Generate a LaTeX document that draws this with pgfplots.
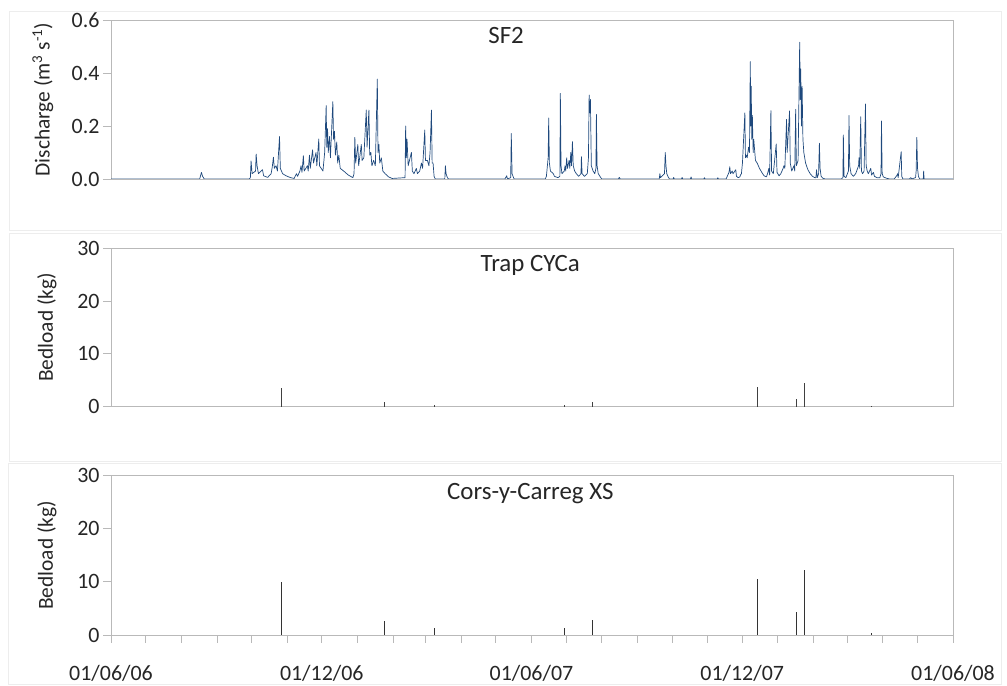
\documentclass[border=0pt]{standalone}
\usepackage{fontspec}
\setmainfont{Carlito}
\usepackage{pgfplots}
\pgfplotsset{compat=1.18}

\definecolor{qblue}{RGB}{31,73,125}
\definecolor{framegray}{RGB}{185,185,185}
\definecolor{txt}{RGB}{38,38,38}

\pgfplotsset{
  panel/.style={
    scale only axis,
    width=842bp,
    xmin=0, xmax=731,
    axis line style={framegray, line width=0.9bp},
    tick style={framegray, line width=0.9bp},
    major tick length=8bp,
    tick align=outside,
    ytick pos=left,
    xtick pos=bottom,
    /pgf/number format/assume math mode=true,
    ticklabel style={font=\fontsize{22}{25}\selectfont, text=txt},
    ylabel style={font=\fontsize{21.5}{25}\selectfont, text=txt, anchor=center, rotate=0},
    clip=true,
  },
}
\tikzset{title node/.style={font=\fontsize{25}{28}\selectfont, text=txt, anchor=center}}

\begin{document}
\begin{tikzpicture}[x=1bp,y=1bp]
\path (0,0) rectangle (1007,686);
% faint chart-area borders
\draw[black!7, line width=0.8bp] (9,456) rectangle (1001,675);
\draw[black!7, line width=0.8bp] (9,225) rectangle (1001,453);
\draw[black!7, line width=0.8bp] (8,2) rectangle (1001,223);

% ---------------- SF2 discharge
\begin{axis}[panel, at={(111bp,507bp)}, anchor=south west, height=159bp,
    ymin=0, ymax=0.6, ytick={0,0.2,0.4,0.6}, xtick=\empty,
    yticklabel style={/pgf/number format/.cd, fixed, fixed zerofill, precision=1},
    ylabel={Discharge (m\textsuperscript{3} s\textsuperscript{-1})},
    ylabel style={at={(axis description cs:-0.0808,0.5)}}]
\addplot[qblue, line width=0.7bp, line join=round] coordinates {
(0,0) (77,0) (78.5,0.025) (79.5,0.01) (81,0) (120,0)
(121,0.005) (121.6,0.068) (122.5,0.02) (125.5,0.03) (126,0.094) (126.8,0.05) (128,0.02)
(131.5,0.035) (132.5,0.012) (136,0.006) (139,0.02) (140,0.045) (141,0.082) (141.8,0.04)
(143.3,0.05) (144.5,0.03) (146.3,0.16) (147,0.04) (149,0.02) (152,0.012) (156,0.005) (159,0.002)
(161,0.02) (162,0.01) (164,0.03) (165,0.05) (165.8,0.025) (167,0.088) (167.7,0.03)
(170.5,0.05) (171.2,0.03) (172.3,0.09) (173,0.04) (175,0.11) (175.8,0.06) (178,0.1) (178.7,0.05)
(180.4,0.151) (181,0.05) (182.5,0.04) (184,0.03) (185.5,0.1) (186.8,0.277) (187.3,0.12)
(188,0.19) (188.6,0.1) (189.7,0.16) (190.5,0.08) (192.6,0.292) (193.2,0.15) (194,0.18) (194.8,0.09)
(196,0.14) (196.8,0.06) (197.8,0.09) (199,0.04) (202,0.03) (206,0.015) (210,0.005)
(211,0.02) (211.7,0.157) (212.4,0.06) (214.3,0.13) (215,0.05) (217.3,0.13) (218,0.07) (219.5,0.08)
(221.6,0.26) (222.3,0.12) (223.9,0.26) (224.6,0.09) (225.6,0.1) (226.5,0.05) (228,0.07) (229.5,0.05)
(231.2,0.377) (231.8,0.1) (232.6,0.13) (233.3,0.06) (234.7,0.08) (236,0.03) (238,0.02) (241,0.008) (244,0.002)
(255.3,0.005) (255.8,0.2) (256.4,0.08) (257,0.15) (258,0.05) (260.8,0.1) (261.6,0.03) (263,0.02)
(265.1,0.04) (266,0.02) (268,0.03) (269.5,0.06) (270.5,0.04) (272.4,0.185) (273,0.07)
(274.7,0.07) (276,0.05) (277,0.1) (278.2,0.26) (278.8,0.06) (279.6,0.06) (280.5,0.01) (281.5,0)
(289.8,0) (290.3,0.05) (290.9,0.02) (292,0.005) (293,0) (342,0)
(343.5,0.012) (344.2,0) (347,0.005) (347.5,0.172) (348.2,0.02) (349,0.01) (350,0) (377,0)
(378,0.01) (379.5,0.08) (380,0.23) (380.6,0.06) (381.5,0.03) (384,0.02) (385,0.01) (388,0.005)
(389.7,0.01) (390.1,0.323) (390.7,0.05) (391.5,0.02) (393.5,0.03) (394.2,0.05) (394.8,0.03)
(395.6,0.08) (396.3,0.04) (397.7,0.07) (398.3,0.04) (399.2,0.1) (399.8,0.05)
(400.6,0.141) (401.3,0.05) (402.5,0.03) (404,0.02) (406,0.01)
(408,0.02) (408.4,0.084) (409,0.02) (411,0.01) (413.5,0.02)
(414.5,0.08) (415.1,0.317) (415.7,0.25) (416.2,0.3) (417,0.05) (418.5,0.03) (420,0.02)
(421,0.04) (421.4,0.244) (422,0.05) (423,0.02) (424.5,0.01) (426,0)
(440.5,0) (441.3,0.006) (442,0) (476,0) (476.5,0.02) (477,0.005)
(480.5,0.02) (481.2,0.1) (481.8,0.05) (482.5,0.02) (484,0.005) (485,0)
(488,0) (488.5,0.006) (489,0) (495.3,0) (495.8,0.006) (496.3,0) (503,0) (503.6,0.008) (504.2,0)
(514.7,0) (515.2,0.005) (515.7,0) (526.3,0) (526.8,0.005) (527.3,0) (534,0)
(534.5,0.005) (536.5,0.025) (537.2,0.046) (537.8,0.02) (539.3,0.03) (540,0.02)
(542.4,0.035) (543,0.01) (544.5,0.005) (546,0.008) (546.5,0.015) (547.3,0.02) (548.2,0.06)
(550.3,0.25) (550.8,0.08) (551.5,0.09) (552.3,0.08) (553.5,0.12) (554.3,0.1)
(555,0.443) (555.4,0.2) (555.8,0.35) (556.3,0.15) (556.8,0.24) (557.5,0.1) (558,0.15)
(559.5,0.07) (561,0.06) (563,0.04) (565,0.025) (567,0.012) (569,0.008)
(570,0.02) (571.1,0.04) (571.8,0.015) (572.9,0.258) (573.5,0.03) (575,0.02)
(577.5,0.132) (578.2,0.025) (580,0.012) (581.5,0.02) (583.5,0.04) (584.2,0.05) (585,0.04)
(586.5,0.225) (587,0.1) (589.1,0.257) (589.7,0.06) (591,0.03) (592.9,0.05) (593.6,0.03)
(594.4,0.263) (595,0.05) (596.5,0.07) (597.9,0.516) (598.4,0.3) (598.8,0.415) (599.4,0.2)
(600,0.35) (600.7,0.15) (601.5,0.1) (603,0.06) (605,0.035) (607,0.02) (609,0.01) (611,0.005)
(612,0.005) (612.5,0.035) (613.2,0.005) (614.3,0.02) (615,0.135) (615.6,0.04) (616.5,0.01) (618,0.003) (620,0)
(634,0) (635.4,0.005) (635.8,0.166) (636.4,0.01) (638,0.005)
(640.2,0.03) (640.7,0.24) (641.3,0.05) (642.5,0.02) (644.5,0.01) (646.5,0.02)
(649,0.05) (649.4,0.08) (650,0.04) (650.9,0.235) (651.5,0.03) (652.5,0.02) (653.8,0.03)
(655,0.283) (655.6,0.05) (656.5,0.03) (657.5,0.02) (659.6,0.04) (660.3,0.015)
(661.9,0.025) (662.8,0.01) (665,0.005) (667.5,0.005)
(668.5,0.02) (668.9,0.219) (669.5,0.02) (670.5,0.008) (673,0.003) (676,0) (680,0)
(682.5,0.015) (682.9,0.02) (683.4,0.005) (686,0.103) (686.5,0.01) (687.5,0) (693,0)
(694.4,0.005) (695,0) (698.5,0.005) (699,0.03) (699.6,0.157) (700.2,0.04) (701,0.01) (702,0)
(705.2,0) (705.5,0.03) (705.9,0) (731,0)
};
\node[title node] at (axis cs:343,0.543) {SF2};
\end{axis}

% ---------------- Trap CYCa
\begin{axis}[panel, at={(111bp,279.3bp)}, anchor=south west, height=158.4bp,
    ymin=0, ymax=30, ytick={0,10,20,30}, xtick=\empty,
    ylabel={Bedload (kg)},
    ylabel style={at={(axis description cs:-0.076,0.5)}}]
\addplot[ycomb, black!75, line width=0.8bp] coordinates {
(147.7,3.5) (237,0.8) (281,0.4) (393.6,0.3) (417.5,0.9)
(560.8,3.7) (595,1.4) (601.7,4.4) (660,0.1)
};
\node[title node] at (axis cs:364,26.8) {Trap CYCa};
\end{axis}

% ---------------- Cors-y-Carreg XS
\begin{axis}[panel, at={(111bp,51bp)}, anchor=south west, height=159.3bp,
    ymin=0, ymax=30, ytick={0,10,20,30},
    xtick={0,30,61,92,122,153,183,214,245,273,304,334,365,395,426,457,487,518,548,579,610,639,670,700,731},
    xticklabels={01/06/06,,,,,,01/12/06,,,,,,01/06/07,,,,,,01/12/07,,,,,,01/06/08},
    xticklabel style={yshift=-19bp},
    ylabel={Bedload (kg)},
    ylabel style={at={(axis description cs:-0.076,0.5)}}]
\addplot[ycomb, black!80, line width=0.8bp] coordinates {
(147.7,9.9) (237,2.6) (281,1.3) (393.6,1.3) (417.5,2.8)
(560.8,10.5) (595,4.3) (601.7,12.2) (660,0.4)
};
\node[title node] at (axis cs:364,26.7) {Cors-y-Carreg XS};
\end{axis}
\end{tikzpicture}
\end{document}
